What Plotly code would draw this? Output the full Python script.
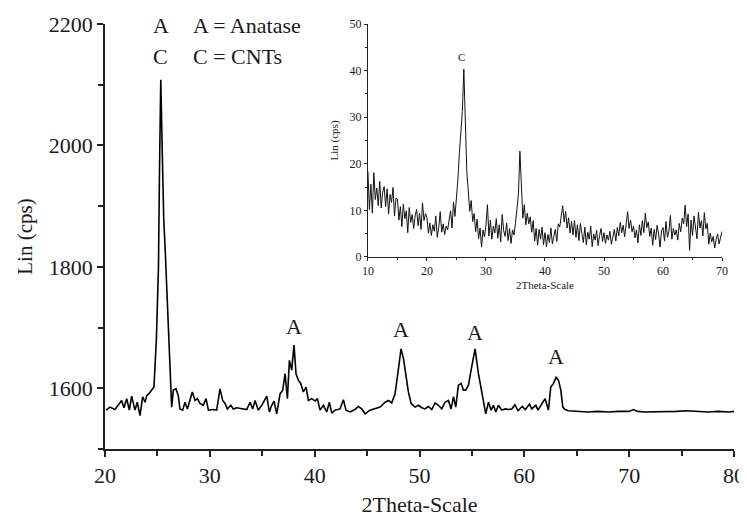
import numpy as np
import plotly.graph_objects as go

# ---------------- Main XRD pattern ----------------
main_x = [20.10, 20.48, 20.95, 21.27, 21.59, 21.81, 22.07, 22.32, 22.54, 22.86,
          23.08, 23.34, 23.59, 23.82, 23.98, 24.23, 24.45, 24.67, 24.90, 25.10,
          25.20, 25.32, 25.45, 25.60, 25.75, 25.90, 26.10, 26.25, 26.36, 26.52,
          26.77, 26.99, 27.15, 27.41, 27.63, 27.86, 28.11, 28.33, 28.59, 28.81,
          29.06, 29.38, 29.64, 29.86, 30.33, 30.65, 30.97, 31.23, 31.45, 31.67,
          31.99, 32.24, 32.56, 33.04, 33.52, 33.84, 34.09, 34.31, 34.63, 34.95,
          35.43, 35.68, 35.90, 36.13, 36.38, 36.70, 36.95, 37.18, 37.40, 37.59,
          37.81, 38.03, 38.22, 38.45, 38.67, 38.92, 39.18, 39.40, 39.72, 40.04,
          40.26, 40.51, 40.83, 41.15, 41.40, 41.63, 41.94, 42.42, 42.74, 42.99,
          43.38, 43.85, 44.17, 44.49, 44.81, 45.28, 45.76, 46.24, 46.72, 47.04,
          47.35, 47.67, 47.93, 48.24, 48.47, 48.69, 48.94, 49.20, 49.58, 49.90,
          50.22, 50.53, 50.85, 51.17, 51.49, 51.80, 52.12, 52.44, 52.76, 53.01,
          53.24, 53.46, 53.71, 53.97, 54.19, 54.41, 54.67, 54.92, 55.30, 55.62,
          55.88, 56.10, 56.32, 56.58, 56.83, 57.05, 57.28, 57.53, 57.85, 58.17,
          58.48, 58.80, 59.10, 59.40, 59.80, 60.10, 60.50, 60.70, 61.10, 61.30,
          61.70, 61.98, 62.30, 62.52, 62.78, 63.03, 63.26, 63.48, 63.67, 63.89,
          64.21, 65.0, 66.0, 67.0, 68.0, 69.0, 70.0, 70.4, 70.8, 71.5,
          72.5, 73.5, 74.5, 75.5, 76.5, 77.5, 78.5, 79.5, 80.0]
main_y = [1564, 1569, 1565, 1572, 1580, 1568, 1583, 1564, 1587, 1564,
          1577, 1555, 1586, 1577, 1588, 1592, 1597, 1602, 1680, 1800,
          1960, 2108, 2000, 1880, 1825, 1760, 1660, 1600, 1569, 1597,
          1599, 1588, 1566, 1564, 1577, 1566, 1583, 1594, 1580, 1583,
          1575, 1572, 1583, 1564, 1565, 1564, 1599, 1580, 1575, 1566,
          1572, 1566, 1568, 1566, 1565, 1577, 1566, 1580, 1564, 1572,
          1587, 1561, 1572, 1579, 1558, 1591, 1597, 1624, 1583, 1646,
          1630, 1671, 1624, 1613, 1608, 1594, 1602, 1580, 1583, 1579,
          1583, 1564, 1572, 1561, 1577, 1559, 1564, 1566, 1581, 1564,
          1561, 1565, 1570, 1566, 1558, 1564, 1566, 1569, 1577, 1580,
          1576, 1591, 1624, 1665, 1649, 1624, 1594, 1575, 1569, 1572,
          1568, 1566, 1570, 1565, 1576, 1572, 1566, 1577, 1580, 1566,
          1586, 1569, 1605, 1608, 1597, 1597, 1605, 1630, 1665, 1624,
          1599, 1580, 1558, 1577, 1564, 1572, 1561, 1572, 1564, 1566,
          1565, 1566, 1573, 1563, 1570, 1565, 1574, 1566, 1572, 1564,
          1575, 1583, 1564, 1602, 1608, 1618, 1613, 1597, 1569, 1565,
          1563, 1562, 1561, 1562, 1561, 1562, 1562, 1565, 1562, 1561,
          1561, 1562, 1562, 1563, 1562, 1561, 1562, 1561, 1562]

# peak labels (main)
label_x = [25.3, 25.3, 38.0, 48.2, 55.3, 63.0]
label_y = [2197, 2146, 1701, 1697, 1692, 1653]
label_text = ["A", "C", "A", "A", "A", "A"]

# key texts
key_x = [28.2, 28.2]
key_y = [2197, 2146]
key_text = ["A = Anatase", "C = CNTs"]

# ---------------- Inset pattern ----------------
inset_start, inset_step = 10.0, 0.25
inset_y = [
    18.3, 10.2, 15.6, 9.4, 18.1, 12.3, 14.8, 11.0, 16.2, 10.5, 13.9, 15.1, 10.8, 14.6, 9.2, 13.4, 11.7, 14.9, 8.8, 12.6,
    12.4, 7.9, 10.8, 6.5, 11.3, 8.2, 9.9, 5.2, 10.6, 7.4, 9.1, 6.1, 8.8, 10.2, 6.7, 9.4, 5.9, 11.6, 7.8, 9.3,
    8.4, 5.1, 7.3, 4.6, 6.9, 5.5, 8.8, 4.2, 6.4, 9.7, 5.3, 7.1, 4.8, 6.6, 5.8, 7.9, 9.9, 6.2, 11.8, 8.7,
    12.5, 16.8, 22.4, 26.1, 31.2, 40.3, 27.5, 18.4, 14.2, 9.8, 12.1, 7.6, 9.3, 5.4, 8.1, 3.9, 6.2, 2.1, 5.8, 4.3,
    6.8, 11.2, 4.5, 7.9, 3.8, 6.6, 5.1, 8.2, 4.0, 6.9, 3.2, 9.1, 5.6, 4.4, 7.3, 3.5, 6.1, 2.9, 5.8, 4.7,
    7.2, 9.8, 13.5, 22.7, 14.1, 8.3, 11.2, 6.9, 9.4, 7.1, 8.6, 5.3, 7.8, 3.4, 6.1, 2.5, 5.9, 3.8, 6.4, 2.6,
    5.2, 2.2, 4.8, 3.1, 6.2, 2.8, 4.4, 5.9, 3.3, 7.1, 6.4, 8.9, 11.0, 7.5, 9.8, 6.2, 8.4, 5.1, 7.6, 4.7,
    7.8, 4.2, 6.9, 3.5, 7.2, 5.0, 3.1, 6.4, 2.6, 5.3, 3.8, 6.6, 2.2, 4.9, 3.6, 5.7, 2.4, 4.6, 6.1, 3.3,
    5.2, 2.9, 4.7, 3.6, 5.5, 2.7, 4.1, 5.9, 3.4, 6.3, 4.5, 7.4, 5.2, 6.8, 4.3, 7.7, 9.7, 6.1, 7.9, 5.4,
    6.6, 4.1, 5.8, 3.0, 6.9, 4.6, 7.8, 5.2, 9.4, 6.3, 7.5, 4.4, 6.2, 2.5, 5.9, 3.7, 6.8, 4.9, 2.1, 5.6,
    6.3, 3.4, 7.6, 4.2, 5.5, 8.9, 3.8, 6.1, 4.7, 5.8, 3.6, 7.2, 5.4, 8.3, 7.1, 11.1, 6.5, 9.2, 1.4, 7.9,
    4.6, 8.8, 5.7, 3.9, 9.6, 6.2, 7.8, 4.5, 9.5, 6.0, 7.2, 2.7, 5.1, 3.2, 4.4, 1.9, 3.8, 4.9, 2.8, 4.1,
    5.5,
]
inset_x = [inset_start + inset_step * i for i in range(len(inset_y))]

SERIF = "Liberation Serif"
INK = "#1a1a1a"

fig = go.Figure()
fig.add_trace(go.Scatter(x=main_x, y=main_y, mode="lines",
                         line=dict(color="black", width=1.6),
                         xaxis="x", yaxis="y", hoverinfo="skip"))
fig.add_trace(go.Scatter(x=inset_x, y=inset_y, mode="lines",
                         line=dict(color="#111111", width=1.0),
                         xaxis="x2", yaxis="y2", hoverinfo="skip"))

ax_common = dict(showline=True, linecolor="#222", showgrid=False, zeroline=False,
                 ticks="outside", tickcolor="#222", automargin=False)

# page body adds an 8px offset, so the figure is sized/margined to compensate
fig.update_layout(
    width=739, height=509,
    margin=dict(l=97, r=13, t=16, b=68, autoexpand=False),
    paper_bgcolor="white", plot_bgcolor="white",
    showlegend=False,
    font=dict(family=SERIF, color=INK),
    xaxis=dict(**ax_common, domain=[0, 1], range=[20, 80], tick0=20, dtick=10,
               linewidth=1.5, tickwidth=1.5, ticklen=6,
               minor=dict(dtick=5, ticks="outside", ticklen=5, tickwidth=1.5, tickcolor="#222"),
               tickfont=dict(family=SERIF, size=22, color=INK),
               title=dict(text="2Theta-Scale", font=dict(family=SERIF, size=22, color=INK), standoff=15)),
    yaxis=dict(**ax_common, domain=[0, 1], range=[1500, 2200], tick0=1600, dtick=200,
               linewidth=1.5, tickwidth=1.5, ticklen=6,
               minor=dict(dtick=100, tick0=1500, ticks="outside", ticklen=5, tickwidth=1.5, tickcolor="#222"),
               tickfont=dict(family=SERIF, size=22, color=INK),
               title=dict(text="Lin (cps)", font=dict(family=SERIF, size=21, color=INK), standoff=10)),
    xaxis2=dict(**ax_common, domain=[0.418, 0.981], anchor="y2", range=[10, 70], tick0=10, dtick=10,
                linewidth=1, tickwidth=1, ticklen=3,
                minor=dict(dtick=5, ticks="outside", ticklen=2, tickwidth=1, tickcolor="#222"),
                tickfont=dict(family=SERIF, size=12, color=INK),
                title=dict(text="2Theta-Scale", font=dict(family=SERIF, size=11, color=INK), standoff=4)),
    yaxis2=dict(**ax_common, domain=[0.452, 1.0], anchor="x2", range=[0, 50], tick0=0, dtick=10,
                linewidth=1, tickwidth=1, ticklen=3,
                minor=dict(dtick=5, ticks="outside", ticklen=2, tickwidth=1, tickcolor="#222"),
                tickfont=dict(family=SERIF, size=12, color=INK),
                title=dict(text="Lin (cps)", font=dict(family=SERIF, size=11, color=INK), standoff=8)),
)

annotations = []
for lx, ly, lt in zip(label_x, label_y, label_text):
    annotations.append(dict(x=lx, y=ly, xref="x", yref="y", text=lt, showarrow=False,
                            font=dict(family=SERIF, size=22, color=INK)))
for kx, ky, kt in zip(key_x, key_y, key_text):
    annotations.append(dict(x=kx, y=ky, xref="x", yref="y", text=kt, showarrow=False,
                            xanchor="left", font=dict(family=SERIF, size=22, color=INK)))
# inset label
annotations.append(dict(x=25.9, y=43.0, xref="x2", yref="y2", text="C", showarrow=False,
                        font=dict(family=SERIF, size=11, color=INK)))
fig.update_layout(annotations=annotations)

fig.write_html("out.html")
